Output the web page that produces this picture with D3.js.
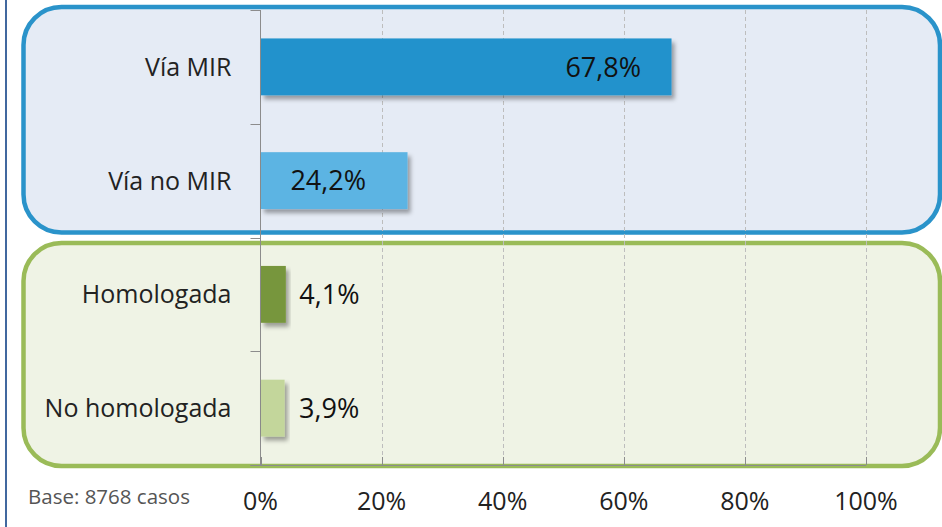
<!DOCTYPE html>
<html>
<head>
<meta charset="utf-8">
<script src="https://cdn.jsdelivr.net/npm/d3@7"></script>
<style>
  html, body { margin: 0; padding: 0; background: #fff; }
</style>
</head>
<body>
<div id="chart"></div>
<script>
const categories = ["Vía MIR", "Vía no MIR", "Homologada", "No homologada"];
const values = [67.8, 24.2, 4.1, 3.9];
const valueLabels = ["67,8%", "24,2%", "4,1%", "3,9%"];
const barColors = ["#2492cc", "#5cb4e3", "#77963c", "#c3d69b"];
const tickValues = [0, 20, 40, 60, 80, 100];
const groups = [
  { first: 0, last: 1, fill: "#e5ebf5", stroke: "#2a93ca" },
  { first: 2, last: 3, fill: "#eff3e5", stroke: "#9abb58" },
];

const width = 942;
const height = 527;
const fontFamily = "'Open Sans', sans-serif";
const textColor = "#222";

const svg = d3
  .select("#chart")
  .append("svg")
  .attr("width", width)
  .attr("height", height)
  .style("font-family", fontFamily);

const defs = svg.append("defs");
defs
  .append("filter")
  .attr("id", "shadow")
  .attr("x", "-10%")
  .attr("y", "-20%")
  .attr("width", "130%")
  .attr("height", "160%")
  .append("feDropShadow")
  .attr("dx", 3)
  .attr("dy", 4)
  .attr("stdDeviation", 2)
  .attr("flood-color", "#000")
  .attr("flood-opacity", 0.35);

const x = d3.scaleLinear().domain([0, 100]).range([260.5, 866]);
const y = d3
  .scaleBand()
  .domain(categories)
  .range([10, 465])
  .paddingInner(0.5)
  .paddingOuter(0.25);

const step = y.step();
const bandTop = (i) => y.range()[0] + i * step;

// background panels
groups.forEach((g, gi) => {
  const top = bandTop(g.first) + (gi === 0 ? -3 : 5.5);
  const bottom = bandTop(g.last + 1) + (gi === 0 ? -5 : 1);
  svg
    .append("rect")
    .attr("x", 23.5)
    .attr("y", top)
    .attr("width", 940 - 23.5)
    .attr("height", bottom - top)
    .attr("rx", 38)
    .attr("ry", 38)
    .attr("fill", g.fill)
    .attr("stroke", g.stroke)
    .attr("stroke-width", 4.5);
});

// left page border
svg
  .append("line")
  .attr("x1", 6)
  .attr("x2", 6)
  .attr("y1", 0)
  .attr("y2", height)
  .attr("stroke", "#41689f")
  .attr("stroke-width", 2);

// gridlines
svg
  .append("g")
  .selectAll("line")
  .data(tickValues.filter((d) => d > 0))
  .join("line")
  .attr("x1", (d) => Math.round(x(d)) + 0.5)
  .attr("x2", (d) => Math.round(x(d)) + 0.5)
  .attr("y1", y.range()[0])
  .attr("y2", y.range()[1])
  .attr("stroke", "#bdbdbd")
  .attr("stroke-width", 1)
  .attr("stroke-dasharray", "4 3");

// axes lines
const axisColor = "#8c8c8c";
svg
  .append("line")
  .attr("x1", x(0))
  .attr("x2", x(0))
  .attr("y1", y.range()[0])
  .attr("y2", y.range()[1])
  .attr("stroke", axisColor)
  .attr("stroke-width", 1);

svg
  .append("line")
  .attr("x1", x(0) - 10)
  .attr("x2", x(100))
  .attr("y1", y.range()[1] + 0.5)
  .attr("y2", y.range()[1] + 0.5)
  .attr("stroke", axisColor)
  .attr("stroke-width", 1);

// category boundary ticks
svg
  .append("g")
  .selectAll("line")
  .data(d3.range(categories.length + 1))
  .join("line")
  .attr("x1", x(0) - 10)
  .attr("x2", x(0))
  .attr("y1", (i) => Math.round(bandTop(i)) + 0.5)
  .attr("y2", (i) => Math.round(bandTop(i)) + 0.5)
  .attr("stroke", axisColor)
  .attr("stroke-width", 1);

// bottom ticks
svg
  .append("g")
  .selectAll("line")
  .data(tickValues)
  .join("line")
  .attr("x1", (d) => Math.round(x(d)) + 0.5)
  .attr("x2", (d) => Math.round(x(d)) + 0.5)
  .attr("y1", y.range()[1] - 8)
  .attr("y2", y.range()[1])
  .attr("stroke", axisColor)
  .attr("stroke-width", 1);

// bars
svg
  .append("g")
  .selectAll("rect")
  .data(categories)
  .join("rect")
  .attr("x", x(0) + 0.5)
  .attr("y", (d) => y(d))
  .attr("width", (d, i) => x(values[i]) - x(0))
  .attr("height", y.bandwidth())
  .attr("fill", (d, i) => barColors[i])
  .attr("filter", "url(#shadow)");

// value labels
const labelOffsets = [-30, -41, 14, 15];
svg
  .append("g")
  .selectAll("text")
  .data(categories)
  .join("text")
  .attr("x", (d, i) => x(values[i]) + labelOffsets[i])
  .attr("y", (d) => y(d) + y.bandwidth() / 2)
  .attr("dy", "0.36em")
  .attr("text-anchor", (d, i) => (labelOffsets[i] < 0 ? "end" : "start"))
  .attr("font-size", "27px")
  .attr("fill", "#111")
  .text((d, i) => valueLabels[i]);

// category labels
svg
  .append("g")
  .selectAll("text")
  .data(categories)
  .join("text")
  .attr("x", x(0) - 29)
  .attr("y", (d) => y(d) + y.bandwidth() / 2)
  .attr("dy", "0.36em")
  .attr("text-anchor", "end")
  .attr("font-size", "25px")
  .attr("fill", textColor)
  .text((d) => d);

// x tick labels
svg
  .append("g")
  .selectAll("text")
  .data(tickValues)
  .join("text")
  .attr("x", (d) => x(d))
  .attr("y", 510)
  .attr("text-anchor", "middle")
  .attr("font-size", "25px")
  .attr("fill", textColor)
  .text((d) => d + "%");

svg
  .append("text")
  .attr("x", 28)
  .attr("y", 504)
  .attr("font-size", "20.5px")
  .attr("fill", "#555")
  .text("Base: 8768 casos");
</script>
</body>
</html>
